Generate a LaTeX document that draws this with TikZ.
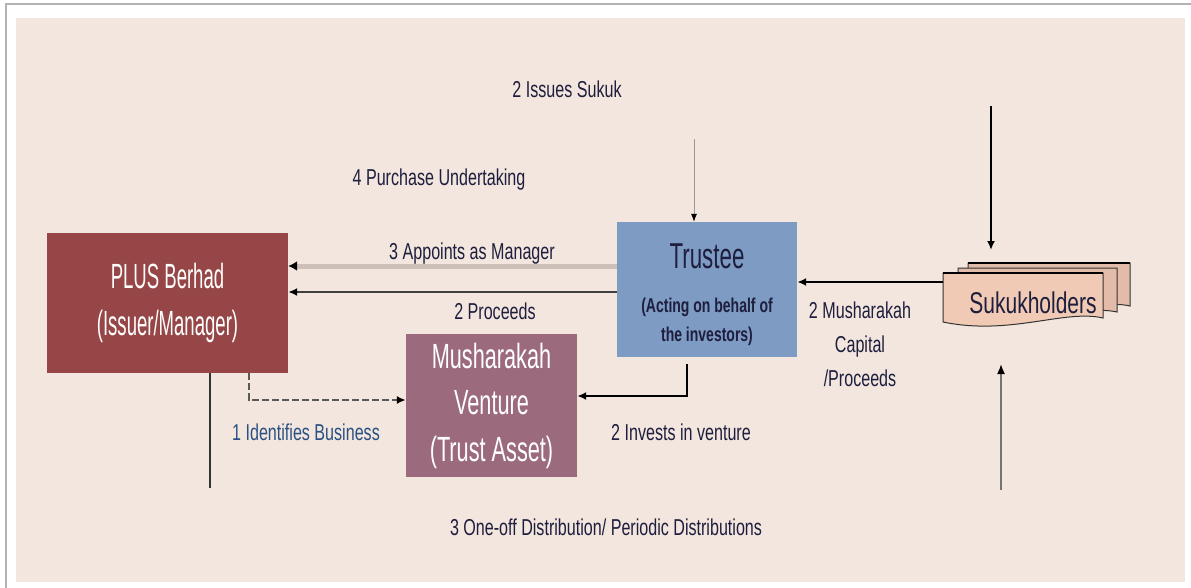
\documentclass[tikz,border=0pt]{standalone}
\usepackage{fontspec}
\setmainfont{Liberation Sans}
\newfontfamily\boxfont[FakeStretch=0.62]{Liberation Sans}
\newfontfamily\plusfont[FakeStretch=0.53]{Liberation Sans}
\newfontfamily\lblfont[FakeStretch=0.7]{Liberation Sans}
\usetikzlibrary{arrows.meta}
\definecolor{pageback}{RGB}{243,230,222}
\definecolor{plusback}{RGB}{150,70,70}
\definecolor{ventureback}{RGB}{155,106,125}
\definecolor{trusteeback}{RGB}{126,155,196}
\definecolor{sukukfront}{RGB}{240,202,180}
\definecolor{sukukrear}{RGB}{226,188,168}
\definecolor{appointline}{RGB}{204,192,184}
\definecolor{lbltext}{RGB}{30,30,62}
\begin{document}
\begin{tikzpicture}[x=1pt,y=-1pt,
  entity/.style={inner sep=0pt,align=center,text=white,
    font=\boxfont\fontsize{35}{46.5}\selectfont},
  lbl/.style={inner sep=0pt,align=center,text=lbltext,
    font=\lblfont\fontsize{23}{34}\selectfont},
  heavy/.style={line width=2.5pt,-{Latex[length=9pt,width=8pt]}},
  docline/.style={draw=black!80,line width=1pt}]
\useasboundingbox (0,0) rectangle (1191,588);
\fill[white] (0,0) rectangle (1191,588);
\draw[black!30,line width=1.5pt] (6,588) -- (6,4) -- (1191,4);
\fill[pageback] (16,18) rectangle (1185,582);

\node[entity,fill=plusback,minimum width=241pt,minimum height=140pt,
  font=\plusfont\fontsize{35}{47}\selectfont] (plus) at (167.5,303)
  {PLUS Berhad\\(Issuer/Manager)};
\node[entity,fill=trusteeback,minimum width=180pt,minimum height=135pt] (trustee) at (707,289.5) {};
\node[entity,text=lbltext,font=\boxfont\fontsize{36}{40}\selectfont] (trtitle)
  at ([yshift=33.5pt]trustee.center) {Trustee};
\node[lbl,text=lbltext,font=\lblfont\bfseries\fontsize{20}{29}\selectfont] (trsub)
  at ([yshift=-32pt]trustee.center) {(Acting on behalf of\\the investors)};
\node[entity,fill=ventureback,minimum width=171pt,minimum height=143pt] (venture)
  at (491.5,405.5) {Musharakah\\Venture\\(Trust Asset)};

\draw[docline,fill=sukukrear] (968,263) -- (1130,263) -- (1130,306)
  .. controls (1100,299) and (1060,318) .. (968,308) -- cycle;
\draw[docline,fill=sukukrear] (958,268) -- (1117,268) -- (1117,312)
  .. controls (1085,305) and (1050,324) .. (958,314) -- cycle;
\draw[docline,fill=sukukfront] (943,273) -- (1103,273) -- (1103,318)
  .. controls (1065,309) and (1010,336) .. (943,322) -- cycle;
\draw[line width=2.5pt] (968,263) -- (1130,263) (943,273) -- (1103,273);
\node[lbl,font=\lblfont\fontsize{30}{34}\selectfont] (suk) at (1033,303) {Sukukholders};

\coordinate (issuetop) at (694,139);
\coordinate (sukin) at (943,282);
\coordinate (sukdown) at (991,106);
\coordinate (sukdownend) at (991,250);
\coordinate (sukup) at (1001,490);
\coordinate (sukupend) at (1001,364);
\coordinate (invest) at (687,364);

\draw[black!40,line width=0.8pt,-{Latex[black,length=8pt,width=6pt]}]
  (issuetop) -- (issuetop |- trustee.north);
\draw[appointline,line width=5pt,-{Latex[black,length=9pt,width=10pt]}]
  ([yshift=23.5pt]trustee.west) -- ([yshift=23.5pt]trustee.west -| plus.east);
\draw[black!75,line width=2pt,-{Latex[black,length=9pt,width=8pt]}]
  ([yshift=-2.5pt]trustee.west) -- ([yshift=-2.5pt]trustee.west -| plus.east);
\draw[heavy] (sukin) -- (sukin -| trustee.east);
\draw[heavy] (invest) |- ([yshift=9.5pt]venture.east);
\draw[black!65,line width=1.8pt,dash pattern=on 7pt off 3pt,
  -{Latex[black,length=9pt,width=8pt]}]
  ([xshift=81.5pt]plus.south) |- ([yshift=5.5pt]venture.west);
\draw[black!80,line width=2pt] ([xshift=42.5pt]plus.south) -- ++(0,115);
\draw[black,line width=2pt,-{Latex[length=9pt,width=8pt]}] (sukdown) -- (sukdownend);
\draw[black!55,line width=1.6pt,-{Latex[black,length=10pt,width=8pt]}] (sukup) -- (sukupend);

\node[lbl] (lblissue) at (567,89) {2 Issues Sukuk};
\node[lbl] (lblpurchase) at (439,180) {4 Purchase Undertaking};
\node[lbl] (lblappoint) at (472,254) {3 Appoints as Manager};
\node[lbl] (lblproceeds) at (495,311) {2 Proceeds};
\node[lbl,text={rgb,255:red,40;green,80;blue,130}] (lblident) at (306,432) {1 Identifies Business};
\node[lbl] (lblinvest) at (681,432) {2 Invests in venture};
\node[lbl] (lblcapital) at (860,344) {2 Musharakah\\Capital\\/Proceeds};
\node[lbl] (lbldist) at (606,527) {3 One-off Distribution/ Periodic Distributions};
\end{tikzpicture}
\end{document}
